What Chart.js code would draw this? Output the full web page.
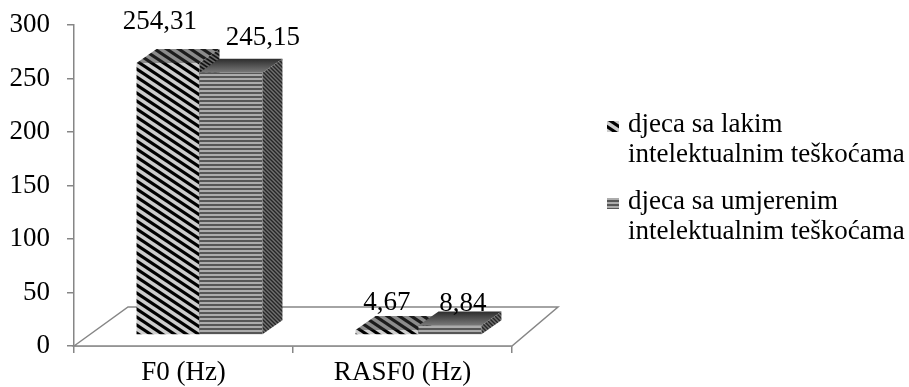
<!DOCTYPE html>
<html>
<head>
<meta charset="utf-8">
<script src="https://cdn.jsdelivr.net/npm/chart.js@4.4.1/dist/chart.umd.min.js"></script>
<style>
  html, body { margin: 0; background: #fff; }
</style>
</head>
<body>
<canvas id="chart" width="909" height="387"></canvas>
<script>
const categories = ['F0 (Hz)', 'RASF0 (Hz)'];
const seriesNames = [
    ['djeca sa lakim', 'intelektualnim teškoćama'],
    ['djeca sa umjerenim', 'intelektualnim teškoćama']
];
const lakimValues = [254.31, 4.67];
const umjerenimValues = [245.15, 8.84];
const yMin = 0;
const yMax = 300;
const yStep = 50;

const FONT = '"Liberation Serif", "Times New Roman", serif';
const FONT_SIZE = 27;
const AXIS = '#868686';
const SHIFT = { x: 16, y: -11 };   // bars stand half way into the floor
const DEPTH = { x: 20, y: -14 };   // bar depth

function diagPattern(w, p, thick, bg, fg) {
    const c = document.createElement('canvas');
    c.width = w; c.height = p;
    const g = c.getContext('2d');
    g.fillStyle = bg;
    g.fillRect(0, 0, w, p);
    g.fillStyle = fg;
    for (let k = -1; k <= 1; k++) {
        g.beginPath();
        g.moveTo(0, k * p);
        g.lineTo(w, k * p + p);
        g.lineTo(w, k * p + p + thick);
        g.lineTo(0, k * p + thick);
        g.closePath();
        g.fill();
    }
    return g.createPattern(c, 'repeat');
}

function horizPattern(p, thick, bg, fg) {
    const c = document.createElement('canvas');
    c.width = 4; c.height = p;
    const g = c.getContext('2d');
    g.fillStyle = bg;
    g.fillRect(0, 0, 4, p);
    g.fillStyle = fg;
    g.fillRect(0, 0, 4, thick);
    return g.createPattern(c, 'repeat');
}

const looks = [
    {
        front: diagPattern(12, 8, 3.8, '#cdcdcd', '#000000'),
        top: diagPattern(12, 8, 3.8, '#8c8c8c', '#1c1c1c'),
        side: diagPattern(6, 4, 2, '#6a6a6a', '#111111')
    },
    {
        front: horizPattern(4, 2, '#acacac', '#565656'),
        top: null,
        side: diagPattern(4, 4, 2, '#707070', '#262626')
    }
];

// label placement in the perspective view
const labelLook = [
    { dx: 0, kx: -0.03, lift: 27 },
    { dx: 12.3, kx: 0.075, lift: 21.5 }
];

function fmt(v) {
    return v.toFixed(2).replace('.', ',');
}

function poly(ctx, pts, fill) {
    ctx.beginPath();
    ctx.moveTo(pts[0][0], pts[0][1]);
    for (let i = 1; i < pts.length; i++) ctx.lineTo(pts[i][0], pts[i][1]);
    ctx.closePath();
    ctx.fillStyle = fill;
    ctx.fill();
}

function barBox(bar) {
    const p = bar.getProps(['x', 'y', 'base', 'width'], true);
    return {
        l: p.x - p.width / 2 + SHIFT.x,
        r: p.x + p.width / 2 + SHIFT.x,
        t: p.y + SHIFT.y,
        b: p.base + SHIFT.y
    };
}

const bars3d = {
    id: 'bars3d',
    beforeDatasetsDraw(chart) {
        const { ctx, chartArea: a } = chart;
        ctx.save();

        // floor
        ctx.beginPath();
        ctx.moveTo(a.left, a.bottom);
        ctx.lineTo(a.left + 54, a.bottom - 39);
        ctx.lineTo(a.right + 46, a.bottom - 39);
        ctx.lineTo(a.right, a.bottom);
        ctx.closePath();
        ctx.fillStyle = '#fff';
        ctx.fill();
        ctx.strokeStyle = AXIS;
        ctx.lineWidth = 1.5;
        ctx.stroke();

        const n = chart.data.labels.length;
        for (let i = 0; i < n; i++) {
            chart.data.datasets.forEach((ds, d) => {
                const { l, r, t, b } = barBox(chart.getDatasetMeta(d).data[i]);
                const look = looks[d];
                poly(ctx, [[l, t], [r, t], [r, b], [l, b]], look.front);
                let topFill = look.top;
                if (!topFill) {
                    topFill = ctx.createLinearGradient(0, t + DEPTH.y, 0, t);
                    topFill.addColorStop(0, '#2c2c2c');
                    topFill.addColorStop(1, '#7a7a7a');
                }
                poly(ctx, [[l, t], [l + DEPTH.x, t + DEPTH.y], [r + DEPTH.x, t + DEPTH.y], [r, t]], topFill);
                poly(ctx, [[r, t], [r + DEPTH.x, t + DEPTH.y], [r + DEPTH.x, b + DEPTH.y], [r, b]], look.side);
            });
        }
        ctx.restore();
        return false;
    },
    afterDraw(chart) {
        const ctx = chart.ctx;
        ctx.save();
        ctx.font = FONT_SIZE + 'px ' + FONT;
        ctx.fillStyle = '#000';
        ctx.textAlign = 'center';
        ctx.textBaseline = 'middle';

        // value labels
        chart.data.datasets.forEach((ds, d) => {
            chart.getDatasetMeta(d).data.forEach((bar, i) => {
                const { l, r, t, b } = barBox(bar);
                const h = b - t;
                const L = labelLook[d];
                ctx.fillText(fmt(ds.data[i]), (l + r) / 2 + L.dx + L.kx * h, t - L.lift - 0.052 * h);
            });
        });

        // legend
        ctx.textAlign = 'left';
        let y = 125;
        seriesNames.forEach((lines, d) => {
            ctx.fillStyle = looks[d].front;
            ctx.fillRect(607, y - 4, 12, 11);
            ctx.fillStyle = '#000';
            lines.forEach(line => {
                ctx.fillText(line, 628, y);
                y += 30;
            });
            y += 17;
        });
        ctx.restore();
    }
};

new Chart(document.getElementById('chart'), {
    type: 'bar',
    data: {
        labels: categories,
        datasets: [
            {
                label: seriesNames[0].join(' '),
                data: lakimValues,
                backgroundColor: looks[0].front,
                categoryPercentage: 0.575,
                barPercentage: 1
            },
            {
                label: seriesNames[1].join(' '),
                data: umjerenimValues,
                backgroundColor: looks[1].front,
                categoryPercentage: 0.575,
                barPercentage: 1
            }
        ]
    },
    options: {
        responsive: false,
        animation: false,
        devicePixelRatio: 1,
        layout: {
            padding: { left: 0, right: 397, top: 25, bottom: 0 }
        },
        plugins: {
            legend: { display: false },
            tooltip: { enabled: false }
        },
        scales: {
            x: {
                grid: {
                    drawOnChartArea: false,
                    drawTicks: true,
                    tickLength: 7,
                    color: AXIS,
                    lineWidth: 1.5,
                    offset: true
                },
                border: { color: AXIS, width: 1.5 },
                ticks: {
                    color: '#000',
                    padding: 4,
                    font: { family: FONT, size: FONT_SIZE }
                },
                afterFit(scale) {
                    scale.height = 41;
                    scale.paddingLeft = 0;
                    scale.paddingRight = 0;
                }
            },
            y: {
                min: yMin,
                max: yMax,
                grid: {
                    drawOnChartArea: false,
                    drawTicks: true,
                    tickLength: 7,
                    color: AXIS,
                    lineWidth: 1.5
                },
                border: { color: AXIS, width: 1.5 },
                ticks: {
                    stepSize: yStep,
                    color: '#000',
                    padding: 17,
                    font: { family: FONT, size: FONT_SIZE }
                },
                afterFit(scale) {
                    scale.width = 74;
                    scale.paddingTop = 0;
                    scale.paddingBottom = 0;
                }
            }
        }
    },
    plugins: [bars3d]
});
</script>
</body>
</html>
